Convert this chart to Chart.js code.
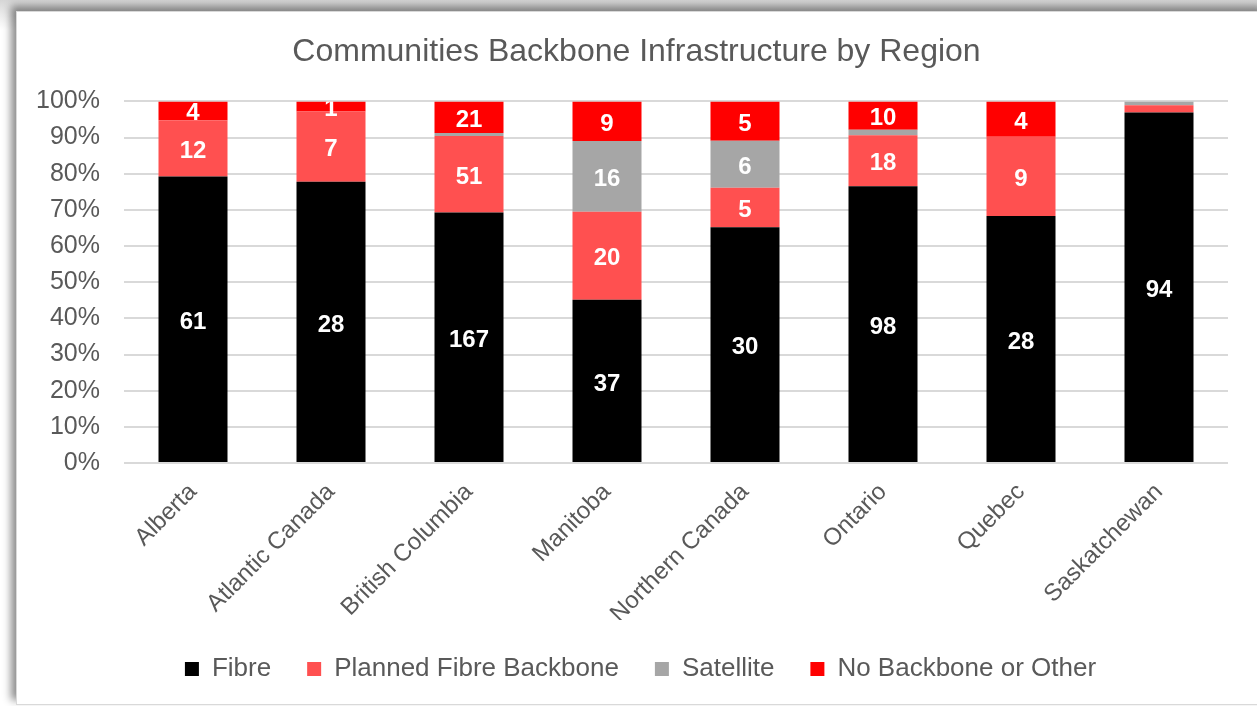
<!DOCTYPE html>
<html>
<head>
<meta charset="utf-8">
<title>Communities Backbone Infrastructure by Region</title>
<script src="https://cdn.jsdelivr.net/npm/chart.js@4.4.1/dist/chart.umd.min.js"></script>
<style>
  html, body { margin: 0; padding: 0; background: #ffffff; overflow: hidden; }
  body { width: 1257px; height: 706px; position: relative; background: linear-gradient(#d6d6d6, #e8e8e8 12px, #ffffff 30px); }
  .panel {
    position: absolute; left: 16px; top: 11px; width: 1250px; height: 692px;
    background: #ffffff; border: 1px solid #d9d9d9;
    box-shadow: -5px -5px 8px rgba(0, 0, 0, 0.45);
  }
  .chart-box { position: absolute; left: 0; top: 0; width: 1240px; height: 692px; }
</style>
</head>
<body>
<div class="panel">
  <div class="chart-box"><canvas id="barChart"></canvas></div>
</div>
<script>
// Community counts per region, by backbone type
const regions = ['Alberta', 'Atlantic Canada', 'British Columbia', 'Manitoba', 'Northern Canada', 'Ontario', 'Quebec', 'Saskatchewan'];
const fibre = [61, 28, 167, 37, 30, 98, 28, 94];
const plannedFibre = [12, 7, 51, 20, 5, 18, 9, 2];
const satellite = [0, 0, 2, 16, 6, 2, 0, 1];
const noBackbone = [4, 1, 21, 9, 5, 10, 4, 0];
const yTicks = [0, 10, 20, 30, 40, 50, 60, 70, 80, 90, 100];

const textColor = '#595959';
const totals = regions.map((r, i) => fibre[i] + plannedFibre[i] + satellite[i] + noBackbone[i]);
const toPercent = arr => arr.map((v, i) => v / totals[i] * 100);

// Draw the community count inside each segment (tiny segments stay unlabeled)
const segmentLabels = {
    id: 'segmentLabels',
    afterDatasetsDraw(chart) {
        const ctx = chart.ctx;
        const area = chart.chartArea;
        ctx.save();
        ctx.beginPath();
        ctx.rect(area.left, area.top, area.right - area.left, area.bottom - area.top);
        ctx.clip();
        ctx.fillStyle = '#ffffff';
        ctx.font = 'bold 24px "Liberation Sans", Arial, sans-serif';
        ctx.textAlign = 'center';
        ctx.textBaseline = 'middle';
        chart.data.datasets.forEach((ds, di) => {
            chart.getDatasetMeta(di).data.forEach((bar, i) => {
                if (ds.data[i] < 2.5) return;
                ctx.fillText(String(ds.counts[i]), bar.x, (bar.y + bar.base) / 2 + 3);
            });
        });
        ctx.restore();
    }
};

// Title and legend sit centered on the whole frame, not just left of the right padding
const centerBlocks = {
    id: 'centerBlocks',
    afterLayout(chart) {
        if (chart.titleBlock) { chart.titleBlock.left += 14; chart.titleBlock.right += 14; }
        if (chart.legend) { chart.legend.left += 18; chart.legend.right += 18; }
    }
};

function makeSet(label, counts, color) {
    return {
        label: label,
        data: toPercent(counts),
        counts: counts,
        backgroundColor: color,
        borderWidth: 0,
        categoryPercentage: 1,
        barPercentage: 0.5
    };
}

new Chart(document.getElementById('barChart'), {
    type: 'bar',
    data: {
        labels: regions,
        datasets: [
            makeSet('Fibre', fibre, '#000000'),
            makeSet('Planned Fibre Backbone', plannedFibre, '#ff5050'),
            makeSet('Satellite', satellite, '#a6a6a6'),
            makeSet('No Backbone or Other', noBackbone, '#ff0000')
        ]
    },
    plugins: [segmentLabels, centerBlocks],
    options: {
        responsive: true,
        maintainAspectRatio: false,
        devicePixelRatio: 1,
        animation: false,
        layout: { padding: { left: 0, right: 29, top: 0, bottom: 12 } },
        font: { family: '"Liberation Sans", Arial, sans-serif' },
        plugins: {
            title: {
                display: true,
                text: 'Communities Backbone Infrastructure by Region',
                color: textColor,
                font: { size: 32, weight: 'normal', family: '"Liberation Sans", Arial, sans-serif' },
                padding: { top: 21, bottom: 30 }
            },
            legend: {
                position: 'bottom',
                labels: {
                    color: textColor,
                    boxWidth: 14,
                    boxHeight: 14,
                    padding: 36,
                    font: { size: 26, family: '"Liberation Sans", Arial, sans-serif' }
                }
            },
            tooltip: { enabled: false }
        },
        scales: {
            x: {
                stacked: true,
                grid: { display: false },
                border: { display: false },
                ticks: {
                    color: textColor,
                    maxRotation: 45,
                    minRotation: 45,
                    padding: 7,
                    font: { size: 24, family: '"Liberation Sans", Arial, sans-serif' }
                },
                afterFit: scale => { scale.height = 157; }
            },
            y: {
                stacked: true,
                min: 0,
                max: 100,
                afterBuildTicks: scale => { scale.ticks = yTicks.map(v => ({ value: v })); },
                grid: { color: '#d9d9d9', lineWidth: 2, drawTicks: false },
                border: { display: false },
                ticks: {
                    color: textColor,
                    padding: 24,
                    font: { size: 25, family: '"Liberation Sans", Arial, sans-serif' },
                    callback: v => v + '%'
                },
                afterFit: scale => { scale.width = 107; }
            }
        }
    }
});
</script>
</body>
</html>
